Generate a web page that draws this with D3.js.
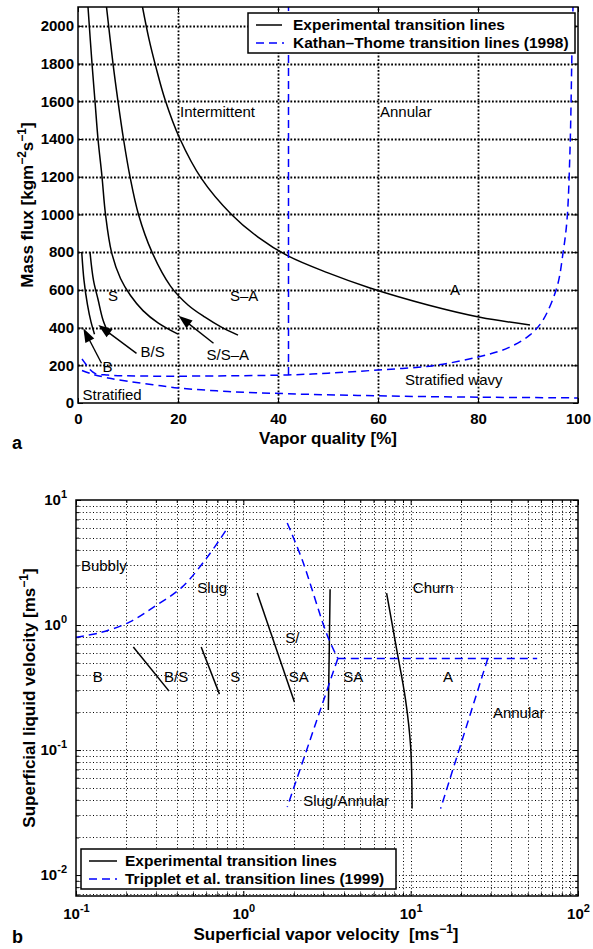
<!DOCTYPE html>
<html>
<head>
<meta charset="utf-8">
<script src="https://cdnjs.cloudflare.com/ajax/libs/d3/7.8.5/d3.min.js"></script>
<style>
  body { margin: 0; background: #fff; }
  text { font-family: "Liberation Sans", Arial, Helvetica, sans-serif; }
</style>
</head>
<body>
<svg id="chart" width="593" height="949"></svg>
<script>
// ---------- panel a : vapor quality vs mass flux ----------
const qualityTicks = [0, 20, 40, 60, 80, 100];
const fluxTicks = [0, 200, 400, 600, 800, 1000, 1200, 1400, 1600, 1800, 2000];

// experimental transition lines [quality %, mass flux]
const expB = [[0.75, 800], [1.2, 650], [1.9, 520], [2.6, 430], [3.3, 365]];
const expBS = [[2.4, 800], [3.1, 650], [4, 550], [5, 440], [6.2, 362]];
const expS = [[2, 2100], [2.8, 1800], [3.4, 1600], [4, 1400], [4.8, 1200], [5.5, 1000],
  [6.7, 800], [8.5, 660], [10.5, 570], [13, 490], [16, 425], [20, 365]];
const expSSA = [[5.7, 2100], [7, 1800], [8, 1600], [9.1, 1400], [10.4, 1200], [12.1, 1000],
  [14.8, 800], [18.5, 620], [22, 520], [25.4, 455], [28.5, 405], [32, 360]];
const expSAA = [[12.9, 2100], [14.2, 1930], [15.6, 1780], [17.4, 1610], [20.4, 1400],
  [24.7, 1190], [30.7, 1000], [36, 880], [42, 780], [50, 690], [58.4, 610], [70, 520],
  [80.4, 455], [90.4, 414]];

// Kattan-Thome lines
const ktWavy = [[0.8, 233], [1.5, 208], [2.3, 180], [3.4, 157], [6, 148], [13, 143], [25, 143],
  [42, 149], [50, 158], [60, 175], [71, 198], [80, 244], [86, 292], [90.4, 361], [93, 440],
  [95.8, 615], [97, 795], [97.8, 971], [98.4, 1342], [98.8, 1873], [99, 2100]];
const ktStrat = [[0.8, 172], [3, 152], [6, 133], [10, 115], [15, 97], [20, 80], [30, 61],
  [42, 49], [60, 38], [80, 31], [100, 27]];
const ktAnnular = [[42.1, 149], [42.1, 2100]];

const regionLabelsA = [
  ['Intermittent', 20.4, 1544], ['Annular', 60.4, 1544], ['S', 6, 568], ['S\u2013A', 30.4, 568],
  ['A', 74.4, 600], ['B', 4.9, 193], ['B/S', 12.5, 272], ['S/S\u2013A', 25.7, 255],
  ['Stratified wavy', 65.4, 122], ['Stratified', 0.9, 42]
];
// arrows: [from quality, from flux, to quality, to flux]
const arrowsA = [[4.7, 211, 1.07, 396], [11.7, 263, 4.07, 414], [27.1, 317, 20.1, 463]];

// ---------- panel b : superficial velocities ----------
const vaporDecades = [0.1, 1, 10, 100];
const liquidDecades = [0.01, 0.1, 1, 10];

const expLinesB = [
  [[0.22, 0.667], [0.36, 0.296]],
  [[0.56, 0.667], [0.72, 0.28]],
  [[1.21, 1.8], [2.02, 0.242]],
  [[3.3, 1.93], [3.26, 0.6], [3.22, 0.209]],
  [[7.18, 1.8], [8.13, 0.71], [9.33, 0.25], [10, 0.106], [10.2, 0.034]]
];
const trBubbly = [[0.1, 0.8], [0.14, 0.87], [0.21, 1.06], [0.3, 1.43], [0.43, 2.01], [0.61, 3.5], [0.8, 5.9]];
const trSlugUpper = [[1.83, 6.55], [2.25, 3.31], [3.17, 0.83], [3.67, 0.54]];
const trSlugLower = [[3.67, 0.54], [1.83, 0.035]];
const trChurn = [[3.67, 0.54], [57, 0.54]];
const trAnnular = [[28.9, 0.54], [15.1, 0.034]];

const regionLabelsB = [
  ['Bubbly', 0.107, 2.97], ['Slug', 0.53, 1.98], ['B', 0.126, 0.384], ['B/S', 0.336, 0.384],
  ['S', 0.836, 0.384], ['S/', 1.78, 0.787], ['SA', 1.87, 0.386], ['SA', 3.95, 0.386],
  ['A', 15.6, 0.386], ['Churn', 10.3, 1.98], ['Annular', 31, 0.198], ['Slug/Annular', 2.28, 0.039]
];

// ---------- drawing ----------
const svg = d3.select('#chart');
const BLUE = '#0000ff';

function styleAxis(g, size) {
  g.attr('font-family', null).attr('font-size', size).attr('font-weight', 'bold');
  g.selectAll('.domain').remove();
  g.selectAll('.tick line').attr('stroke', '#000').attr('stroke-width', 1);
}

// dotted grid lines straight from the scales
function grid(g, xs, ys, xVals, yVals, w, dash) {
  const [x0, x1] = xs.range(), [y0, y1] = ys.range();
  xVals.forEach(d => {
    const px = Math.round(xs(d)) + 0.5;
    g.append('line').attr('x1', px).attr('x2', px).attr('y1', y0).attr('y2', y1);
  });
  yVals.forEach(d => {
    const py = Math.round(ys(d)) + 0.5;
    g.append('line').attr('x1', x0).attr('x2', x1).attr('y1', py).attr('y2', py);
  });
  g.selectAll('line').style('stroke', '#000').style('stroke-width', w)
    .style('stroke-dasharray', dash);
}

function arrow(g, x1, y1, x2, y2) {
  const dx = x2 - x1, dy = y2 - y1, len = Math.hypot(dx, dy);
  const ux = dx / len, uy = dy / len, L = 14, W = 5;
  g.append('line').attr('x1', x1).attr('y1', y1)
    .attr('x2', x2 - ux * L * 0.8).attr('y2', y2 - uy * L * 0.8)
    .attr('stroke', '#000').attr('stroke-width', 1.4);
  const bx = x2 - ux * L, by = y2 - uy * L;
  g.append('path')
    .attr('d', `M${x2},${y2}L${bx - uy * W},${by + ux * W}L${bx + uy * W},${by - ux * W}Z`)
    .attr('fill', '#000');
}

// ===== panel a =====
const xA = d3.scaleLinear().domain([0, 100]).range([78, 578]);
const yA = d3.scaleLinear().domain([0, 2100]).range([403, 7]);

svg.append('defs').append('clipPath').attr('id', 'clipA')
  .append('rect').attr('x', 78).attr('y', 7).attr('width', 500).attr('height', 396);

const gA = svg.append('g');
grid(gA.append('g'), xA, yA, qualityTicks.slice(1, -1), fluxTicks.slice(1), 1.8, '1.8 1.8');

gA.append('g').attr('transform', 'translate(0,403)')
  .call(d3.axisBottom(xA).tickValues(qualityTicks).tickSize(-5).tickPadding(10))
  .call(g => styleAxis(g, 15));
gA.append('g').attr('transform', 'translate(0,7)')
  .call(d3.axisTop(xA).tickValues(qualityTicks).tickSize(-5).tickFormat(''))
  .call(g => styleAxis(g, 15));
gA.append('g').attr('transform', 'translate(78,0)')
  .call(d3.axisLeft(yA).tickValues(fluxTicks).tickSize(-5).tickPadding(4).tickFormat(d3.format('d')))
  .call(g => styleAxis(g, 15));
gA.append('g').attr('transform', 'translate(578,0)')
  .call(d3.axisRight(yA).tickValues(fluxTicks).tickSize(-5).tickFormat(''))
  .call(g => styleAxis(g, 15));

const lineA = d3.line().x(d => xA(d[0])).y(d => yA(d[1])).curve(d3.curveCatmullRom.alpha(0.5));
const plotA = gA.append('g').attr('clip-path', 'url(#clipA)');
[expB, expBS, expS, expSSA, expSAA].forEach(s => {
  plotA.append('path').attr('d', lineA(s)).attr('fill', 'none')
    .attr('stroke', '#000').attr('stroke-width', 1.5);
});
[ktWavy, ktStrat, ktAnnular].forEach(s => {
  plotA.append('path').attr('d', lineA(s)).attr('fill', 'none')
    .attr('stroke', BLUE).attr('stroke-width', 1.5).attr('stroke-dasharray', '8 5');
});

regionLabelsA.forEach(([t, x, y]) => {
  gA.append('text').attr('x', xA(x)).attr('y', yA(y)).attr('dy', '0.35em')
    .attr('font-size', 15).text(t);
});
arrowsA.forEach(([x1, y1, x2, y2]) => arrow(gA, xA(x1), yA(y1), xA(x2), yA(y2)));

gA.append('rect').attr('x', 78).attr('y', 7).attr('width', 500).attr('height', 396)
  .attr('fill', 'none').attr('stroke', '#000').attr('stroke-width', 1.5);

// legend a
const legA = gA.append('g');
legA.append('rect').attr('x', 248).attr('y', 13).attr('width', 327).attr('height', 40)
  .attr('fill', '#fff').attr('stroke', '#000').attr('stroke-width', 1.5);
legA.append('line').attr('x1', 256).attr('x2', 282).attr('y1', 25).attr('y2', 25)
  .attr('stroke', '#000').attr('stroke-width', 1.5);
legA.append('line').attr('x1', 256).attr('x2', 284).attr('y1', 43).attr('y2', 43)
  .attr('stroke', BLUE).attr('stroke-width', 1.5).attr('stroke-dasharray', '8 5');
legA.append('text').attr('x', 293).attr('y', 25).attr('dy', '0.35em')
  .attr('font-size', 15.5).attr('font-weight', 'bold').text('Experimental transition lines');
legA.append('text').attr('x', 293).attr('y', 43).attr('dy', '0.35em')
  .attr('font-size', 15.5).attr('font-weight', 'bold').text('Kathan\u2013Thome transition lines (1998)');

// axis titles a
svg.append('text').attr('x', 328).attr('y', 444).attr('text-anchor', 'middle')
  .attr('font-size', 17).attr('font-weight', 'bold').text('Vapor quality [%]');
const tA = svg.append('text').attr('transform', 'translate(33,205) rotate(-90)')
  .attr('text-anchor', 'middle').attr('font-size', 17).attr('font-weight', 'bold');
tA.append('tspan').text('Mass flux [kgm');
tA.append('tspan').attr('dy', -7).attr('font-size', 12).text('\u22122');
tA.append('tspan').attr('dy', 7).text('s');
tA.append('tspan').attr('dy', -7).attr('font-size', 12).text('\u22121');
tA.append('tspan').attr('dy', 7).text(']');
svg.append('text').attr('x', 12).attr('y', 449).attr('font-size', 18)
  .attr('font-weight', 'bold').text('a');

// ===== panel b =====
const xB = d3.scaleLog().domain([0.1, 100]).range([76, 578]);
const yB = d3.scaleLog().domain([0.0068, 10]).range([896, 500]);

const minorsX = [];
vaporDecades.slice(0, -1).forEach(d => { for (let k = 2; k <= 9; k++) minorsX.push(d * k); });
const minorsY = [0.007, 0.008, 0.009];
liquidDecades.slice(0, -1).forEach(d => { for (let k = 2; k <= 9; k++) minorsY.push(d * k); });

svg.append('defs').append('clipPath').attr('id', 'clipB')
  .append('rect').attr('x', 76).attr('y', 500).attr('width', 502).attr('height', 396);

const gB = svg.append('g');
grid(gB.append('g'), xB, yB, minorsX.concat(vaporDecades.slice(1, -1)),
  minorsY.concat(liquidDecades.slice(0, -1)), 1, '1 2.4');

function supLabels(g) {
  g.selectAll('.tick text').each(function (d) {
    const t = d3.select(this).text('10');
    t.append('tspan').attr('dy', -7).attr('font-size', 11).text(Math.round(Math.log10(d)));
  });
}

gB.append('g').attr('transform', 'translate(0,896)')
  .call(d3.axisBottom(xB).tickValues(vaporDecades).tickSize(-5).tickPadding(12))
  .call(g => styleAxis(g, 15)).call(supLabels);
gB.append('g').attr('transform', 'translate(0,896)')
  .call(d3.axisBottom(xB).tickValues(minorsX).tickSize(-3).tickFormat(''))
  .call(g => styleAxis(g, 15));
gB.append('g').attr('transform', 'translate(0,500)')
  .call(d3.axisTop(xB).tickValues(vaporDecades).tickSize(-5).tickFormat(''))
  .call(g => styleAxis(g, 15));
gB.append('g').attr('transform', 'translate(0,500)')
  .call(d3.axisTop(xB).tickValues(minorsX).tickSize(-3).tickFormat(''))
  .call(g => styleAxis(g, 15));
gB.append('g').attr('transform', 'translate(76,0)')
  .call(d3.axisLeft(yB).tickValues(liquidDecades).tickSize(-5).tickPadding(9))
  .call(g => styleAxis(g, 15)).call(supLabels);
gB.append('g').attr('transform', 'translate(76,0)')
  .call(d3.axisLeft(yB).tickValues(minorsY).tickSize(-3).tickFormat(''))
  .call(g => styleAxis(g, 15));
gB.append('g').attr('transform', 'translate(578,0)')
  .call(d3.axisRight(yB).tickValues(liquidDecades).tickSize(-5).tickFormat(''))
  .call(g => styleAxis(g, 15));
gB.append('g').attr('transform', 'translate(578,0)')
  .call(d3.axisRight(yB).tickValues(minorsY).tickSize(-3).tickFormat(''))
  .call(g => styleAxis(g, 15));

const lineB = d3.line().x(d => xB(d[0])).y(d => yB(d[1])).curve(d3.curveCatmullRom.alpha(0.5));
const plotB = gB.append('g').attr('clip-path', 'url(#clipB)');
expLinesB.forEach(s => {
  plotB.append('path').attr('d', lineB(s)).attr('fill', 'none')
    .attr('stroke', '#000').attr('stroke-width', 1.5);
});
[trBubbly, trSlugUpper, trSlugLower, trChurn, trAnnular].forEach(s => {
  plotB.append('path').attr('d', lineB(s)).attr('fill', 'none')
    .attr('stroke', BLUE).attr('stroke-width', 1.5).attr('stroke-dasharray', '8 5');
});

regionLabelsB.forEach(([t, x, y]) => {
  gB.append('text').attr('x', xB(x)).attr('y', yB(y)).attr('dy', '0.35em')
    .attr('font-size', 15).text(t);
});

gB.append('rect').attr('x', 76).attr('y', 500).attr('width', 502).attr('height', 396)
  .attr('fill', 'none').attr('stroke', '#000').attr('stroke-width', 1.5);

// legend b
const legB = gB.append('g');
legB.append('rect').attr('x', 81).attr('y', 849).attr('width', 315).attr('height', 40)
  .attr('fill', '#fff').attr('stroke', '#000').attr('stroke-width', 1.5);
legB.append('line').attr('x1', 89).attr('x2', 117).attr('y1', 861).attr('y2', 861)
  .attr('stroke', '#000').attr('stroke-width', 1.5);
legB.append('line').attr('x1', 89).attr('x2', 117).attr('y1', 879).attr('y2', 879)
  .attr('stroke', BLUE).attr('stroke-width', 1.5).attr('stroke-dasharray', '8 5');
legB.append('text').attr('x', 125).attr('y', 861).attr('dy', '0.35em')
  .attr('font-size', 15.5).attr('font-weight', 'bold').text('Experimental transition lines');
legB.append('text').attr('x', 125).attr('y', 879).attr('dy', '0.35em')
  .attr('font-size', 15.5).attr('font-weight', 'bold').text('Tripplet et al. transition lines (1999)');

// axis titles b
const tBx = svg.append('text').attr('x', 326).attr('y', 940).attr('text-anchor', 'middle')
  .attr('font-size', 17).attr('font-weight', 'bold');
tBx.append('tspan').text('Superficial vapor velocity\u00a0\u00a0[ms');
tBx.append('tspan').attr('dy', -7).attr('font-size', 12).text('\u22121');
tBx.append('tspan').attr('dy', 7).text(']');
const tBy = svg.append('text').attr('transform', 'translate(35,698) rotate(-90)')
  .attr('text-anchor', 'middle').attr('font-size', 17).attr('font-weight', 'bold');
tBy.append('tspan').text('Superficial liquid velocity [ms');
tBy.append('tspan').attr('dy', -7).attr('font-size', 12).text('\u22121');
tBy.append('tspan').attr('dy', 7).text(']');
svg.append('text').attr('x', 12).attr('y', 943).attr('font-size', 18)
  .attr('font-weight', 'bold').text('b');
</script>
</body>
</html>
